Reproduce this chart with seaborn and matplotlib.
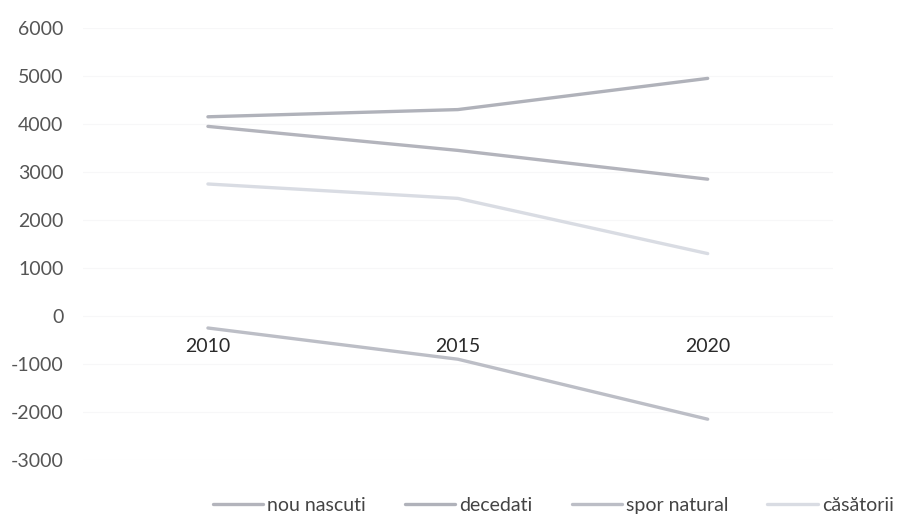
import numpy as np
import pandas as pd
import matplotlib
matplotlib.use("Agg")
import matplotlib.pyplot as plt
import seaborn as sns

# ── data ──────────────────────────────────────────────────────
years = ["2010", "2015", "2020"]
nou_nascuti = [3950, 3450, 2850]
decedati = [4150, 4300, 4950]
spor_natural = [-250, -900, -2150]
casatorii = [2750, 2450, 1300]

series_names = ["nou nascuti", "decedati", "spor natural", "căsătorii"]
series_vals = [nou_nascuti, decedati, spor_natural, casatorii]
y_ticks = [-3000, -2000, -1000, 0, 1000, 2000, 3000, 4000, 5000, 6000]

df = pd.DataFrame({
    "an": years * len(series_names),
    "valoare": [v for vals in series_vals for v in vals],
    "serie": [n for n in series_names for _ in years],
})

sns.set_theme(style="white")
plt.rcParams["font.family"] = ["Lato", "DejaVu Sans"]
plt.rcParams["axes.unicode_minus"] = False

palette = {
    "nou nascuti": "#b3b4bc",
    "decedati": "#b0b2ba",
    "spor natural": "#bcbec6",
    "căsătorii": "#d9dce3",
}

fig = plt.figure(figsize=(9.07, 5.25), dpi=100)
fig.patch.set_facecolor("white")
ax = fig.add_axes([0.0915, 0.1238, 0.8265, 0.8229])

sns.lineplot(data=df, x="an", y="valoare", hue="serie", palette=palette,
             hue_order=series_names, linewidth=2.4, sort=False, ax=ax,
             legend=False)

ax.set_xlim(-0.5, 2.5)
ax.set_ylim(-3000, 6000)
ax.set_yticks(y_ticks)
ax.set_yticklabels([str(t) for t in y_ticks])
ax.yaxis.grid(True, color="#f7f7f8", linewidth=0.8)
ax.xaxis.grid(False)
ax.set_xlabel("")
ax.set_ylabel("")

for s in ax.spines.values():
    s.set_visible(False)
ax.spines["bottom"].set_position(("data", 0))

ax.tick_params(axis="y", length=0, pad=14, labelsize=14, labelcolor="#555555")
ax.tick_params(axis="x", length=0, pad=16, labelsize=14, labelcolor="#2a2a2a")

handles = [plt.Line2D([], [], color=palette[n], linewidth=2.4) for n in series_names]
fig.legend(handles, series_names, loc="center", bbox_to_anchor=(0.61, 0.038),
           ncol=4, frameon=False, fontsize=14, handlelength=2.6,
           handletextpad=0.2, columnspacing=2.0, labelcolor="#444444")

fig.savefig("out.png", dpi=100, facecolor="white")
plt.close(fig)
